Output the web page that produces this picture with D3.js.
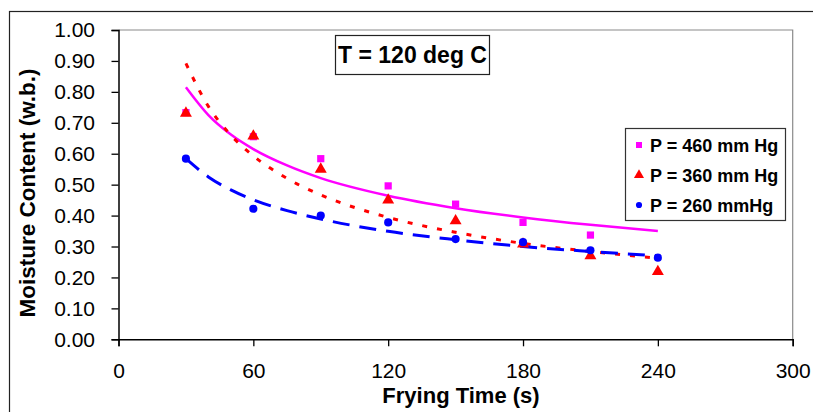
<!DOCTYPE html>
<html>
<head>
<meta charset="utf-8">
<script src="https://cdn.jsdelivr.net/npm/d3@7"></script>
<style>
  body { margin: 0; background: #fff; }
  text { font-family: Arial, "Liberation Sans", sans-serif; }
</style>
</head>
<body>
<div id="chart"></div>
<script>
// Measured points
const times = [30, 60, 90, 120, 150, 180, 210, 240];
const p460 = [0.733, 0.655, 0.584, 0.496, 0.437, 0.378, 0.337];
const p360 = [0.731, 0.657, 0.550, 0.450, 0.383, 0.308, 0.270, 0.219];
const p260 = [0.584, 0.422, 0.400, 0.378, 0.324, 0.314, 0.288, 0.264];

// Trend lines
const trendTimes = [30, 40, 50, 60, 75, 90, 120, 150, 180, 210, 240];
const trend460 = [0.815, 0.725, 0.662, 0.615, 0.562, 0.521, 0.464, 0.424, 0.394, 0.370, 0.350];
const trend360 = [0.892, 0.753, 0.660, 0.593, 0.520, 0.467, 0.394, 0.346, 0.310, 0.284, 0.262];
const trend260 = [0.584, 0.525, 0.483, 0.451, 0.416, 0.389, 0.349, 0.322, 0.300, 0.284, 0.270];

const xTicks = [0, 60, 120, 180, 240, 300];
const yTicks = [0, 0.1, 0.2, 0.3, 0.4, 0.5, 0.6, 0.7, 0.8, 0.9, 1.0];
const seriesNames = ["P = 460 mm Hg", "P = 360 mm Hg", "P = 260 mmHg"];

const W = 813, H = 412;
const margin = {top: 30, right: 20.3, bottom: 72.7, left: 118.5};
const width = W - margin.left - margin.right;
const height = H - margin.top - margin.bottom;

const svg = d3.select("#chart").append("svg")
    .attr("width", W)
    .attr("height", H);

// outer chart border
svg.append("rect")
    .attr("x", 9.5).attr("y", 11.5)
    .attr("width", 900).attr("height", 500)
    .attr("fill", "none")
    .attr("stroke", "#222")
    .attr("stroke-width", 1.2);

const g = svg.append("g")
    .attr("transform", `translate(${margin.left}, ${margin.top})`);

const x = d3.scaleLinear().domain([0, 300]).range([0, width]);
const y = d3.scaleLinear().domain([0, 1]).range([height, 0]);

// plot area frame (top & right in grey)
g.append("path")
    .attr("d", `M0,0H${width}V${height}`)
    .attr("fill", "none")
    .attr("stroke", "#8a8a8a")
    .attr("stroke-width", 1.2);

// axes
const yAxis = g.append("g")
    .call(d3.axisLeft(y).tickValues(yTicks).tickFormat(d3.format(".2f"))
        .tickSize(7).tickPadding(16.5));
const xAxis = g.append("g")
    .attr("transform", `translate(0, ${height})`)
    .call(d3.axisBottom(x).tickValues(xTicks).tickSize(7).tickPadding(16.8));

[yAxis, xAxis].forEach(ax => {
    ax.select(".domain").attr("stroke", "#000").attr("stroke-width", 1.5);
    ax.selectAll(".tick line").attr("stroke", "#000").attr("stroke-width", 1.3);
    ax.selectAll(".tick text")
        .attr("fill", "#000")
        .style("font-size", "21px")
        .style("font-family", "Arial, 'Liberation Sans', sans-serif");
});

// trend lines
const line = d3.line()
    .x(d => x(d[0]))
    .y(d => y(d[1]))
    .curve(d3.curveMonotoneX);

const trends = [
    {vals: trend460, color: "#ff00ff", dash: null, w: 2.5},
    {vals: trend360, color: "#ff0000", dash: "5,10", w: 3},
    {vals: trend260, color: "#0000ff", dash: "17,10", w: 3}
];
trends.forEach(t => {
    g.append("path")
        .datum(trendTimes.map((tt, i) => [tt, t.vals[i]]))
        .attr("d", line)
        .attr("fill", "none")
        .attr("stroke", t.color)
        .attr("stroke-width", t.w)
        .attr("stroke-dasharray", t.dash);
});

// markers
const sq = d3.symbol().type(d3.symbolSquare).size(52);
const tri = d3.symbol().type(d3.symbolTriangle).size(62);
const circ = d3.symbol().type(d3.symbolCircle).size(52);

g.selectAll(".p460").data(p460).enter().append("path")
    .attr("class", "p460")
    .attr("d", sq)
    .attr("transform", (d, i) => `translate(${x(times[i])}, ${y(d)})`)
    .attr("fill", "#ff00ff");
g.selectAll(".p360").data(p360).enter().append("path")
    .attr("class", "p360")
    .attr("d", tri)
    .attr("transform", (d, i) => `translate(${x(times[i])}, ${y(d)})`)
    .attr("fill", "#ff0000");
g.selectAll(".p260").data(p260).enter().append("path")
    .attr("class", "p260")
    .attr("d", circ)
    .attr("transform", (d, i) => `translate(${x(times[i])}, ${y(d)})`)
    .attr("fill", "#0000ff");

// axis titles
svg.append("text")
    .attr("x", 461).attr("y", 403)
    .attr("text-anchor", "middle")
    .style("font-size", "22px").style("font-weight", "bold")
    .text("Frying Time (s)");
svg.append("text")
    .attr("transform", "translate(35, 193) rotate(-90)")
    .attr("text-anchor", "middle")
    .style("font-size", "22.5px").style("font-weight", "bold")
    .text("Moisture Content (w.b.)");

// temperature note
svg.append("rect")
    .attr("x", 335.5).attr("y", 35.5)
    .attr("width", 154).attr("height", 39)
    .attr("fill", "#fff").attr("stroke", "#222").attr("stroke-width", 1.2);
svg.append("text")
    .attr("x", 412.5).attr("y", 63)
    .attr("text-anchor", "middle")
    .style("font-size", "23px").style("font-weight", "bold")
    .text("T = 120 deg C");

// legend
const legend = svg.append("g");
legend.append("rect")
    .attr("x", 625.5).attr("y", 128.5)
    .attr("width", 160).attr("height", 92)
    .attr("fill", "#fff").attr("stroke", "#333").attr("stroke-width", 1.2);
const legendSymbols = [
    {sym: d3.symbol().type(d3.symbolSquare).size(36), color: "#ff00ff"},
    {sym: d3.symbol().type(d3.symbolTriangle).size(44), color: "#ff0000"},
    {sym: d3.symbol().type(d3.symbolCircle).size(30), color: "#0000ff"}
];
const rowY = [145, 175, 205];
seriesNames.forEach((name, i) => {
    legend.append("path")
        .attr("d", legendSymbols[i].sym)
        .attr("transform", `translate(639, ${rowY[i]})`)
        .attr("fill", legendSymbols[i].color);
    legend.append("text")
        .attr("x", 650).attr("y", rowY[i] + 6.5)
        .style("font-size", "18px").style("font-weight", "bold")
        .text(name);
});
</script>
</body>
</html>
